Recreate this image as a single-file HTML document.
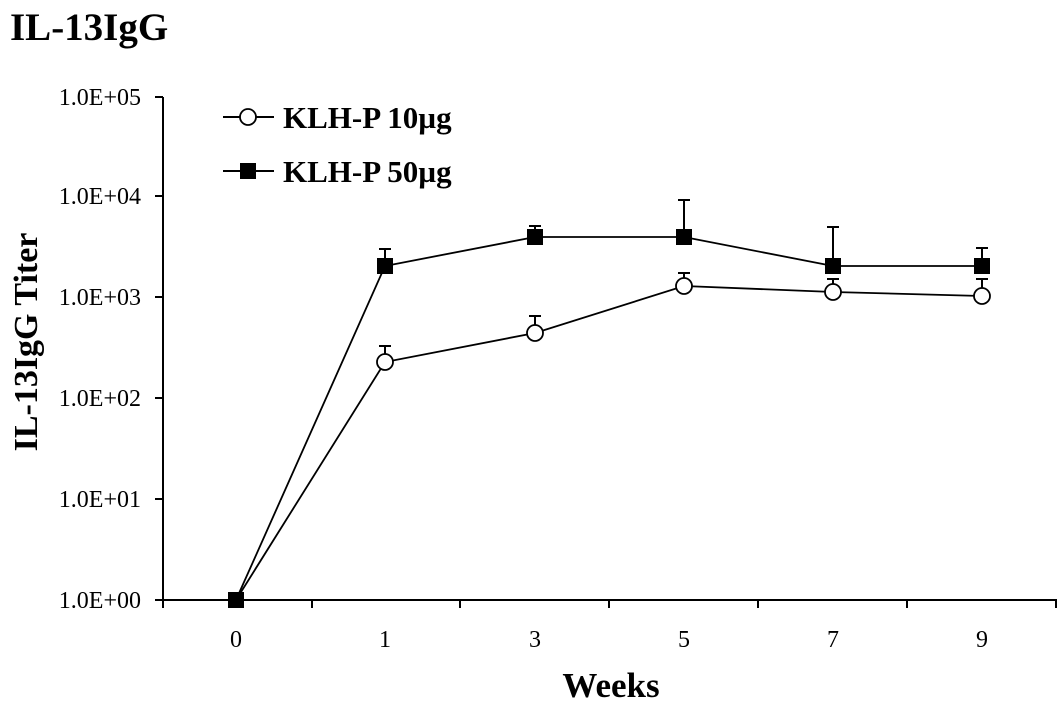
<!DOCTYPE html>
<html><head><style>html,body{margin:0;padding:0;background:#fff;}</style></head>
<body>
<svg width="1063" height="709" xmlns="http://www.w3.org/2000/svg" font-family="'Liberation Serif', serif">
<rect width="1063" height="709" fill="#fff"/>
<text x="10" y="40" font-size="39" font-weight="bold">IL-13IgG</text>
<g stroke="#000" stroke-width="2" fill="none">
<line x1="163" y1="97" x2="163" y2="601"/>
<line x1="162" y1="600" x2="1057" y2="600"/>
<line x1="155" y1="97" x2="163" y2="97"/>
<line x1="155" y1="196" x2="163" y2="196"/>
<line x1="155" y1="297" x2="163" y2="297"/>
<line x1="155" y1="398" x2="163" y2="398"/>
<line x1="155" y1="499" x2="163" y2="499"/>
<line x1="155" y1="600" x2="163" y2="600"/>
<line x1="163" y1="600" x2="163" y2="608"/>
<line x1="312" y1="600" x2="312" y2="608"/>
<line x1="460" y1="600" x2="460" y2="608"/>
<line x1="609" y1="600" x2="609" y2="608"/>
<line x1="758" y1="600" x2="758" y2="608"/>
<line x1="907" y1="600" x2="907" y2="608"/>
<line x1="1056" y1="600" x2="1056" y2="608"/>
</g>
<g font-size="24" text-anchor="end">
<text x="141" y="105">1.0E+05</text>
<text x="141" y="204">1.0E+04</text>
<text x="141" y="305">1.0E+03</text>
<text x="141" y="406">1.0E+02</text>
<text x="141" y="507">1.0E+01</text>
<text x="141" y="608">1.0E+00</text>
</g>
<g font-size="24" text-anchor="middle">
<text x="236" y="647">0</text><text x="385" y="647">1</text><text x="535" y="647">3</text>
<text x="684" y="647">5</text><text x="833" y="647">7</text><text x="982" y="647">9</text>
</g>
<text x="611" y="697" font-size="35" font-weight="bold" text-anchor="middle">Weeks</text>
<text transform="translate(37,342) rotate(-90)" font-size="34" font-weight="bold" text-anchor="middle">IL-13IgG Titer</text>
<g stroke="#000" stroke-width="2">
<line x1="385" y1="362" x2="385" y2="346"/><line x1="379" y1="346" x2="391" y2="346"/>
<line x1="535" y1="333" x2="535" y2="316"/><line x1="529" y1="316" x2="541" y2="316"/>
<line x1="684" y1="286" x2="684" y2="273"/><line x1="678" y1="273" x2="690" y2="273"/>
<line x1="833" y1="292" x2="833" y2="279"/><line x1="827" y1="279" x2="839" y2="279"/>
<line x1="982" y1="296" x2="982" y2="279"/><line x1="976" y1="279" x2="988" y2="279"/>
<line x1="385" y1="266" x2="385" y2="249"/><line x1="379" y1="249" x2="391" y2="249"/>
<line x1="535" y1="237" x2="535" y2="226"/><line x1="529" y1="226" x2="541" y2="226"/>
<line x1="684" y1="237" x2="684" y2="200"/><line x1="678" y1="200" x2="690" y2="200"/>
<line x1="833" y1="266" x2="833" y2="227"/><line x1="827" y1="227" x2="839" y2="227"/>
<line x1="982" y1="266" x2="982" y2="248"/><line x1="976" y1="248" x2="988" y2="248"/>
</g>
<polyline points="236,600 385,362 535,333 684,286 833,292 982,296" fill="none" stroke="#000" stroke-width="1.8"/>
<polyline points="236,600 385,266 535,237 684,237 833,266 982,266" fill="none" stroke="#000" stroke-width="1.8"/>
<g fill="#fff" stroke="#000" stroke-width="1.8">
<circle cx="385" cy="362" r="8"/><circle cx="535" cy="333" r="8"/><circle cx="684" cy="286" r="8"/>
<circle cx="833" cy="292" r="8"/><circle cx="982" cy="296" r="8"/>
</g>
<g fill="#000">
<rect x="228" y="592" width="16" height="16"/>
<rect x="377" y="258" width="16" height="16"/><rect x="527" y="229" width="16" height="16"/>
<rect x="676" y="229" width="16" height="16"/><rect x="825" y="258" width="16" height="16"/>
<rect x="974" y="258" width="16" height="16"/>
</g>
<line x1="223" y1="117" x2="274" y2="117" stroke="#000" stroke-width="2"/>
<circle cx="248" cy="117" r="8" fill="#fff" stroke="#000" stroke-width="1.8"/>
<line x1="223" y1="171" x2="274" y2="171" stroke="#000" stroke-width="2"/>
<rect x="240" y="163" width="16" height="16" fill="#000"/>
<text x="283" y="128" font-size="31" font-weight="bold">KLH-P 10µg</text>
<text x="283" y="182" font-size="31" font-weight="bold">KLH-P 50µg</text>
</svg>
</body></html>
